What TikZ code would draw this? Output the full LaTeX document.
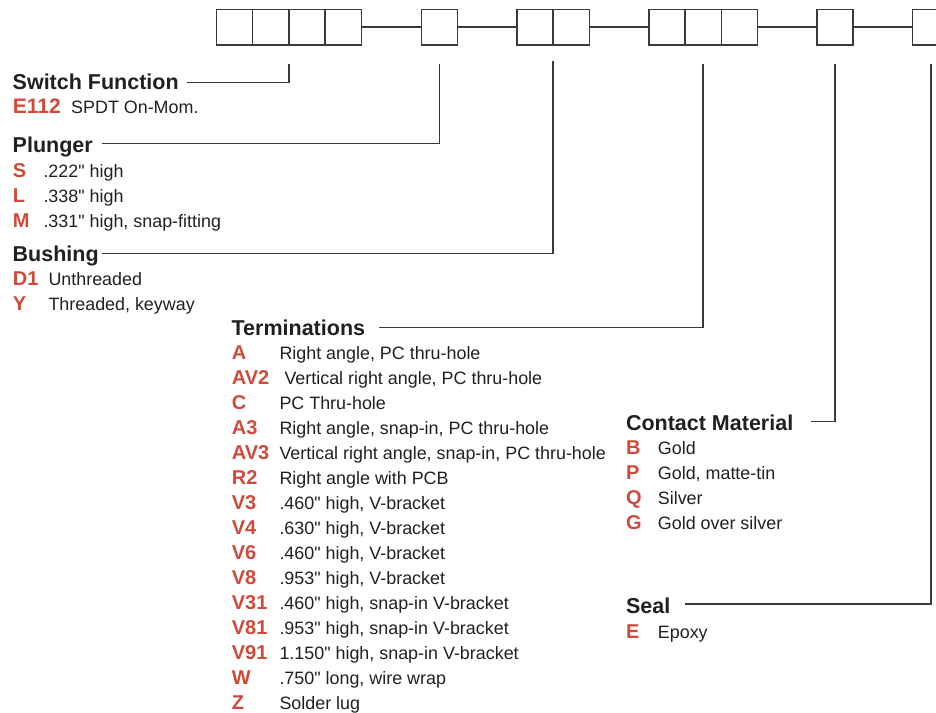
\documentclass[tikz,border=0pt]{standalone}
\usepackage{fontspec}
\newfontfamily\lib{Liberation Sans}
\definecolor{txt}{HTML}{231F20}
\definecolor{linec}{HTML}{3A3A3A}
\definecolor{codered}{HTML}{D04A3A}
\tikzset{
  cell/.style={draw=linec, line width=1.4pt, minimum width=36.2pt, minimum height=35.7pt, inner sep=0pt, outer sep=0pt, anchor=north west},
  conn/.style={draw=linec, line width=1.4pt},
  head/.style={font=\lib\bfseries\fontsize{21.5}{24}\selectfont, text=txt, inner sep=0pt, outer sep=0pt, anchor=base west, text height=15.4pt, text depth=0pt},
  code/.style={font=\lib\bfseries\fontsize{20}{22}\selectfont, text=codered, inner sep=0pt, anchor=base west},
  desc/.style={font=\lib\fontsize{17.9}{20}\selectfont, text=txt, inner sep=0pt, anchor=base west}
}
\begin{document}
\begin{tikzpicture}[x=1pt,y=-1pt]
\useasboundingbox (0,0) rectangle (936,712);
% boxes
\node[cell] (b1) at (216.5,9.3) {};
\node[cell] (b2) at (252.7,9.3) {};
\node[cell] (b3) at (288.9,9.3) {};
\node[cell] (b4) at (325.1,9.3) {};
\node[cell] (b5) at (421.2,9.3) {};
\node[cell] (b6) at (516.9,9.3) {};
\node[cell] (b7) at (553.1,9.3) {};
\node[cell] (b8) at (648.8,9.3) {};
\node[cell] (b9) at (685.0,9.3) {};
\node[cell] (b10) at (721.2,9.3) {};
\node[cell] (b11) at (816.9,9.3) {};
\node[cell] (b12) at (912.7,9.3) {};
\draw[conn] (b4.east) -- (b5.west);
\draw[conn] (b5.east) -- (b6.west);
\draw[conn] (b7.east) -- (b8.west);
\draw[conn] (b10.east) -- (b11.west);
\draw[conn] (b11.east) -- (b12.west);

% Switch Function
\node[head] (hsw) at (12.7,89.3) {Switch Function};
\node[code, font=\lib\bfseries\fontsize{21}{22}\selectfont] (csw) at (12.7,113.3) {E112};
\node[desc] (dsw) at (71,113.3) {SPDT On-Mom.};
\draw[conn] ([yshift=-1.1pt]hsw.east -| 186.7,0) -| ([yshift=-19pt]b2.south east);

% Plunger
\node[head] (hpl) at (12.7,152.3) {Plunger};
\node[code] (cp1) at (12.7,177) {S};
\node[desc] (dp1) at (43.3,177) {.222" high};
\node[code] (cp2) at (12.7,202) {L};
\node[desc] (dp2) at (43.3,202) {.338" high};
\node[code] (cp3) at (12.7,227) {M};
\node[desc] (dp3) at (43.3,227) {.331" high, snap-fitting};
\draw[conn] ([yshift=1.3pt]hpl.east -| 101.7,0) -| ([yshift=-19pt]b5.south);

% Bushing
\node[head] (hbu) at (12.7,261) {Bushing};
\node[code] (cb1) at (12.7,285.3) {D1};
\node[desc] (db1) at (48.3,285.3) {Unthreaded};
\node[code] (cb2) at (12.7,310.3) {Y};
\node[desc] (db2) at (48.3,310.3) {Threaded, keyway};
\draw[conn] (hbu.east -| 101.7,0) -| ([yshift=-16pt]b6.south east);

% Terminations
\node[head] (hte) at (231.7,335) {Terminations};
\draw[conn] (hte.east -| 379.3,0) -| ([yshift=-19pt]b9.south);
\node[code] (ct1) at (231.7,359.3) {A};
\node[desc] (dt1) at (279.3,359.3) {Right angle, PC thru-hole};
\node[code] (ct2) at (231.7,384.3) {AV2};
\node[desc] (dt2) at (284.3,384.3) {Vertical right angle, PC thru-hole};
\node[code] (ct3) at (231.7,409.3) {C};
\node[desc] (dt3) at (279.3,409.3) {PC Thru-hole};
\node[code] (ct4) at (231.7,434.3) {A3};
\node[desc] (dt4) at (279.3,434.3) {Right angle, snap-in, PC thru-hole};
\node[code] (ct5) at (231.7,459.3) {AV3};
\node[desc] (dt5) at (279.3,459.3) {Vertical right angle, snap-in, PC thru-hole};
\node[code] (ct6) at (231.7,484.3) {R2};
\node[desc] (dt6) at (279.3,484.3) {Right angle with PCB};
\node[code] (ct7) at (231.7,509.3) {V3};
\node[desc] (dt7) at (279.3,509.3) {.460" high, V-bracket};
\node[code] (ct8) at (231.7,534.3) {V4};
\node[desc] (dt8) at (279.3,534.3) {.630" high, V-bracket};
\node[code] (ct9) at (231.7,559.3) {V6};
\node[desc] (dt9) at (279.3,559.3) {.460" high, V-bracket};
\node[code] (ct10) at (231.7,584.3) {V8};
\node[desc] (dt10) at (279.3,584.3) {.953" high, V-bracket};
\node[code] (ct11) at (231.7,609.3) {V31};
\node[desc] (dt11) at (279.3,609.3) {.460" high, snap-in V-bracket};
\node[code] (ct12) at (231.7,634.3) {V81};
\node[desc] (dt12) at (279.3,634.3) {.953" high, snap-in V-bracket};
\node[code] (ct13) at (231.7,659.3) {V91};
\node[desc] (dt13) at (279.3,659.3) {1.150" high, snap-in V-bracket};
\node[code] (ct14) at (231.7,684.3) {W};
\node[desc] (dt14) at (279.3,684.3) {.750" long, wire wrap};
\node[code] (ct15) at (231.7,709.3) {Z};
\node[desc] (dt15) at (279.3,709.3) {Solder lug};

% Contact Material
\node[head] (hcm) at (626,430) {Contact Material};
\draw[conn] ([yshift=0.6pt]hcm.east -| 811,0) -| ([yshift=-19pt]b11.south);
\node[code] (cc1) at (626,454.3) {B};
\node[desc] (dc1) at (657.7,454.3) {Gold};
\node[code] (cc2) at (626,479.3) {P};
\node[desc] (dc2) at (657.7,479.3) {Gold, matte-tin};
\node[code] (cc3) at (626,504.3) {Q};
\node[desc] (dc3) at (657.7,504.3) {Silver};
\node[code] (cc4) at (626,529.3) {G};
\node[desc] (dc4) at (657.7,529.3) {Gold over silver};

% Seal
\node[head] (hse) at (626,613.3) {Seal};
\draw[conn] ([yshift=1.6pt]hse.east -| 685,0) -| ([yshift=-19pt]b12.south);
\node[code] (cs1) at (626,638.3) {E};
\node[desc] (ds1) at (657.7,638.3) {Epoxy};
\end{tikzpicture}
\end{document}
